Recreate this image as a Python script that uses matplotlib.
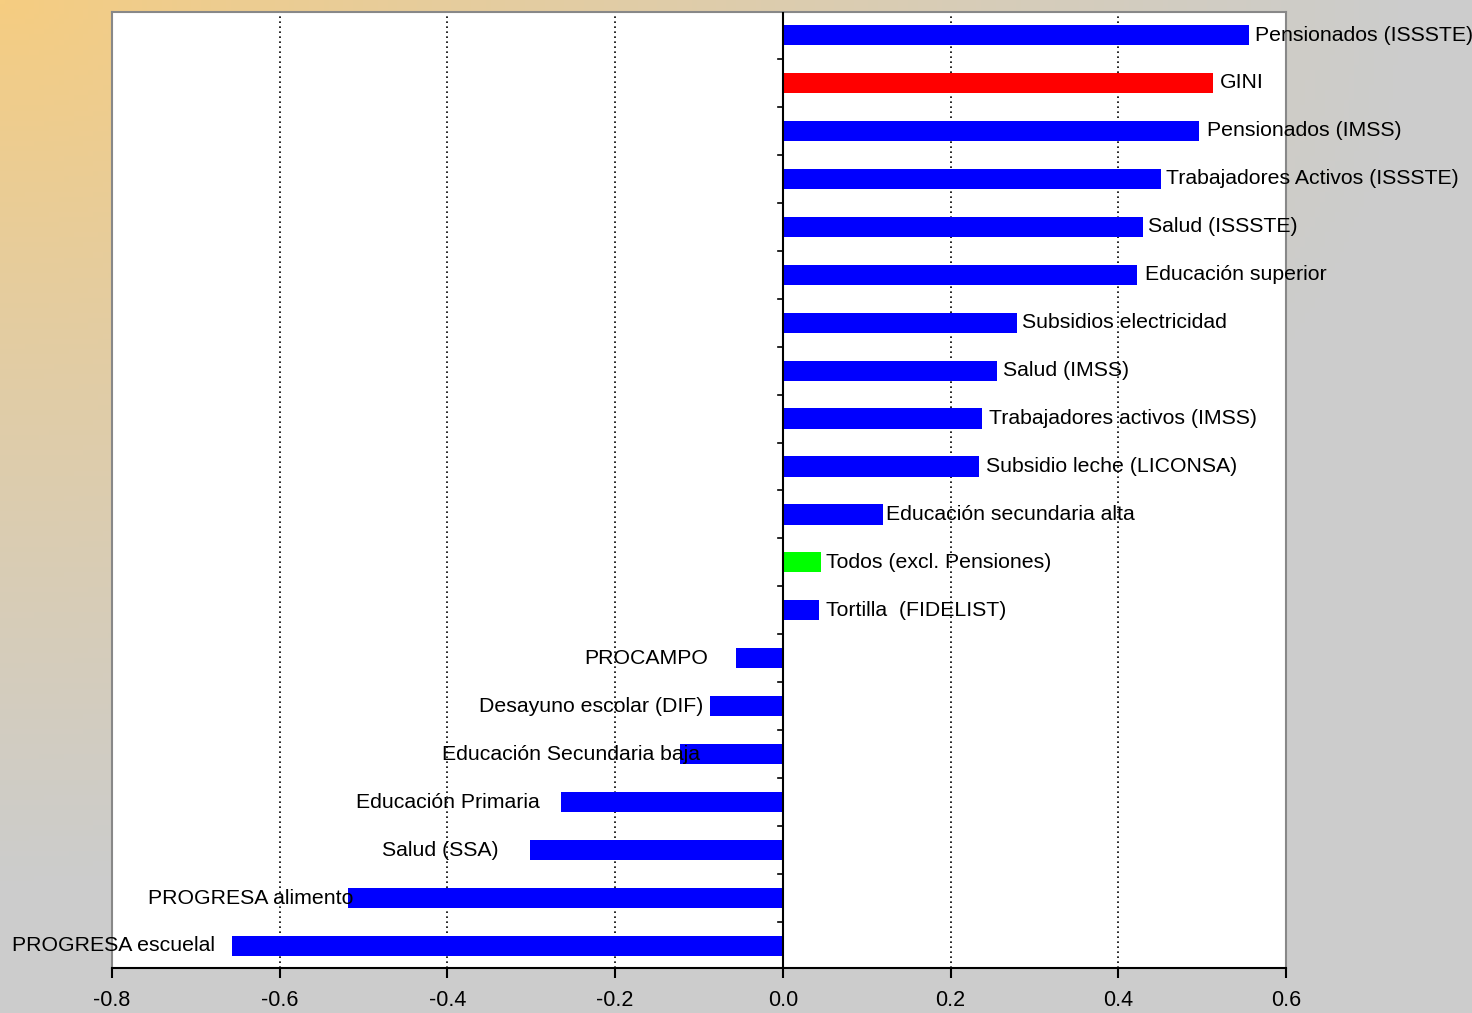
import numpy as np
import matplotlib
matplotlib.use("Agg")
import matplotlib.pyplot as plt

plt.rcParams['font.family'] = ['Liberation Sans', 'DejaVu Sans']

# programmes, top to bottom
labels = ['Pensionados (ISSSTE)', 'GINI', 'Pensionados (IMSS)',
          'Trabajadores Activos (ISSSTE)', 'Salud (ISSSTE)', 'Educación superior',
          'Subsidios electricidad', 'Salud (IMSS)', 'Trabajadores activos (IMSS)',
          'Subsidio leche (LICONSA)', 'Educación secundaria alta',
          'Todos (excl. Pensiones)', 'Tortilla  (FIDELIST)', 'PROCAMPO',
          'Desayuno escolar (DIF)', 'Educación Secundaria baja', 'Educación Primaria',
          'Salud (SSA)', 'PROGRESA alimento', 'PROGRESA escuelal']
values = [0.556, 0.513, 0.496, 0.451, 0.429, 0.422, 0.279, 0.255, 0.238, 0.234,
          0.119, 0.045, 0.043, -0.056, -0.087, -0.123, -0.264, -0.302, -0.519, -0.657]
colors = ['blue', 'red'] + ['blue'] * 9 + ['#00ff00'] + ['blue'] * 8
# label gap from bar end, in pixels (Excel placed them by hand)
gaps = [6, 7, 8, 5, 5, 8, 5, 6, 7, 7, 3, 5, 7, 28, 7, -20, 22, 31, -6, 17]

W, H = 1472, 1013
fig = plt.figure(figsize=(W / 100, H / 100), dpi=100)

# background gradient from the top-left corner
bg = fig.add_axes([0, 0, 1, 1])
xx, yy = np.meshgrid(np.linspace(0, 1, 300), np.linspace(0, 1, 200))
t = np.clip(np.sqrt((xx * 1.05) ** 2 + (yy * 1.15) ** 2), 0, 1) ** 0.85
c0 = np.array([246, 205, 128]) / 255
c1 = np.array([204, 204, 204]) / 255
img = c0[None, None, :] * (1 - t[..., None]) + c1[None, None, :] * t[..., None]
bg.imshow(img, aspect='auto', extent=[0, 1, 1, 0])
bg.axis('off')

ax = fig.add_axes([112 / W, 1 - 968 / H, (1286 - 112) / W, (968 - 12) / H])
ax.set_facecolor('white')
n = len(values)
y = np.arange(n)
ax.barh(y, values, height=0.42, color=colors, zorder=2)
ax.set_xlim(-0.8, 0.6)
ax.set_ylim(n - 0.54, -0.48)

for xv in [-0.6, -0.4, -0.2, 0.2, 0.4]:
    ax.axvline(xv, color='black', linestyle=(0, (1, 2)), linewidth=1.2, zorder=1)
ax.axvline(0, color='black', linewidth=1.5, zorder=3)
for b in np.arange(0.5, n - 1, 1):
    ax.plot([-0.006, 0], [b, b], color='black', linewidth=1.2, zorder=3, clip_on=False)

for i, (lab, v) in enumerate(zip(labels, values)):
    off = gaps[i] * 0.72
    if v >= 0:
        ax.annotate(lab, (v, i), xytext=(off, 0), textcoords='offset points',
                    ha='left', va='center', fontsize=15.3, zorder=4, annotation_clip=False)
    else:
        ax.annotate(lab, (v, i), xytext=(-off, 0), textcoords='offset points',
                    ha='right', va='center', fontsize=15.3, zorder=4, annotation_clip=False)

ax.set_yticks([])
ax.set_xticks([-0.8, -0.6, -0.4, -0.2, 0.0, 0.2, 0.4, 0.6])
ax.set_xticklabels(['-0.8', '-0.6', '-0.4', '-0.2', '0.0', '0.2', '0.4', '0.6'], fontsize=15.5)
ax.tick_params(axis='x', length=7, width=1.5, pad=9)
for s in ['left', 'top', 'right']:
    ax.spines[s].set_color('#888888')
    ax.spines[s].set_linewidth(1.5)
ax.spines['bottom'].set_linewidth(1.5)

fig.savefig('out.png', dpi=100)
